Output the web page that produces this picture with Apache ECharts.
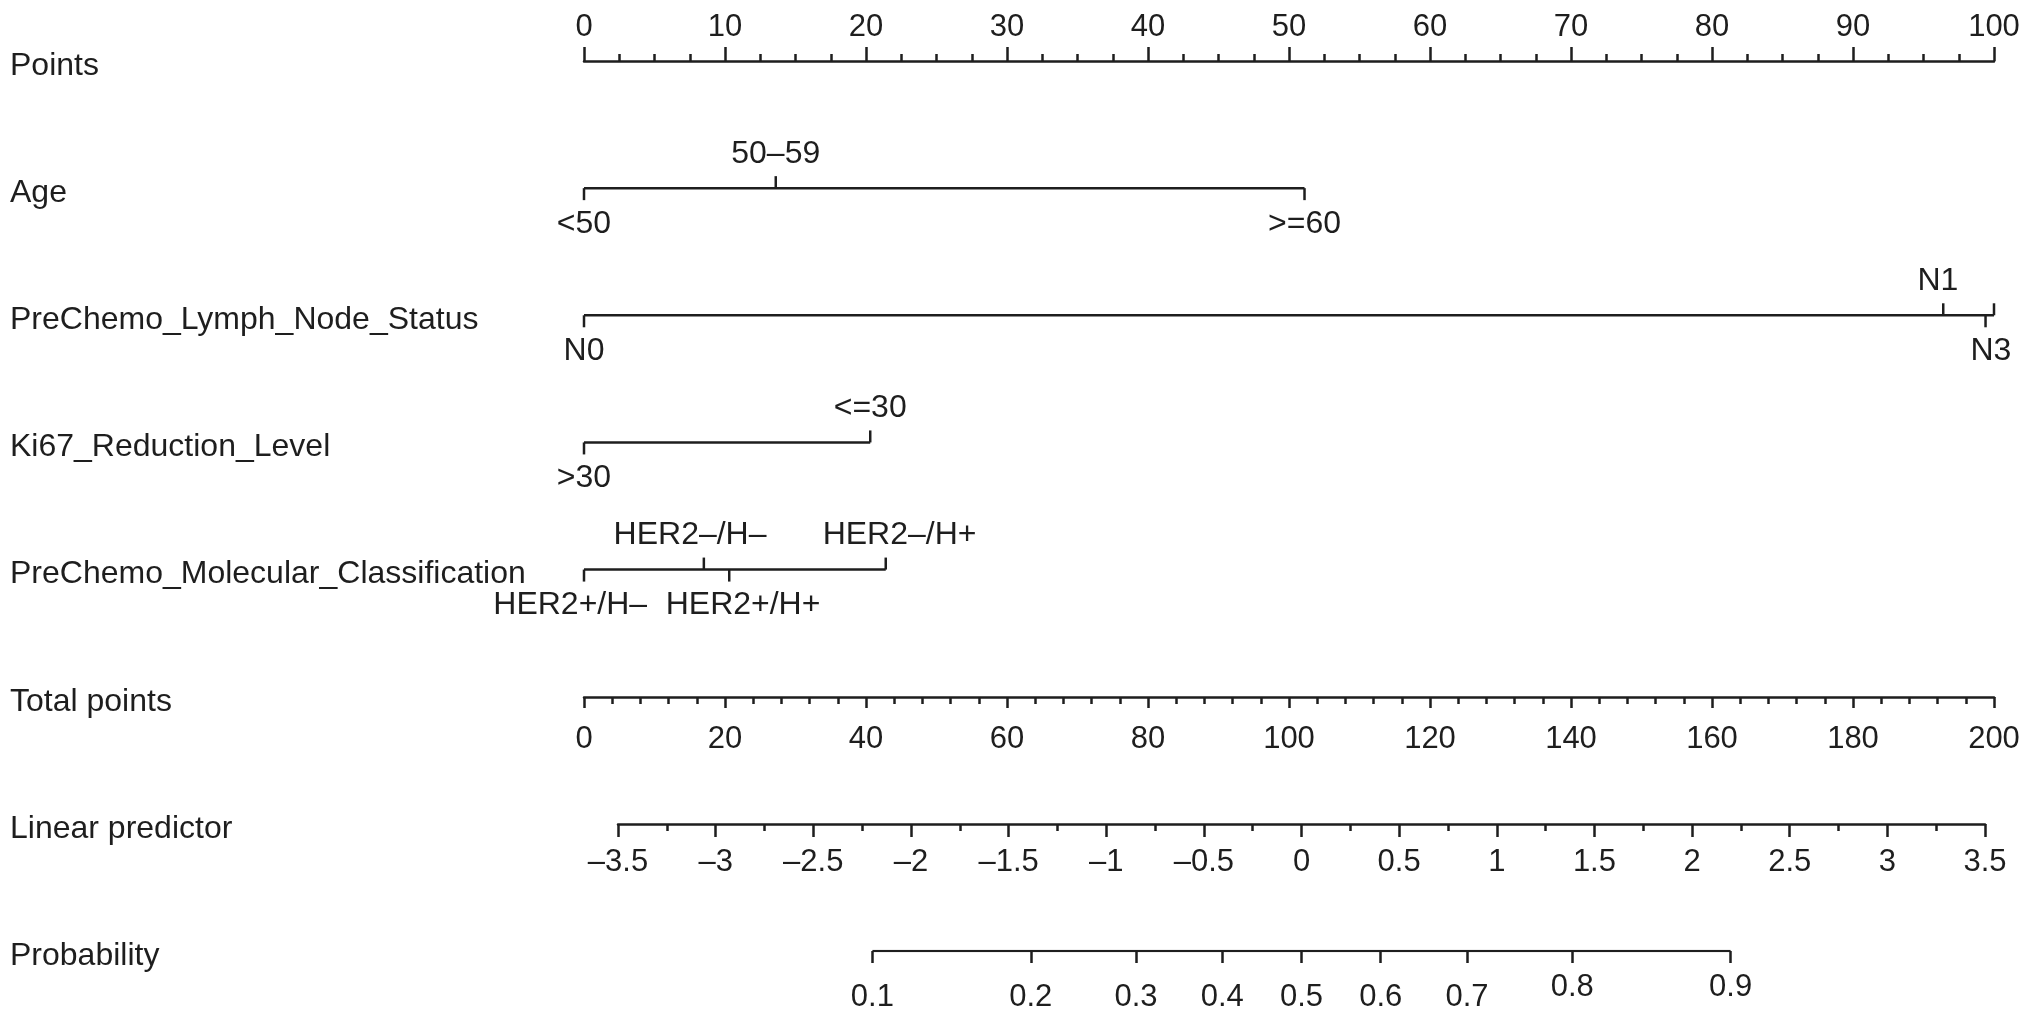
<!DOCTYPE html>
<html>
<head>
<meta charset="utf-8">
<title>Nomogram</title>
<script src="https://cdn.jsdelivr.net/npm/echarts@6/dist/echarts.min.js"></script>
<style>
  html, body { margin: 0; padding: 0; background: #fff; }
  #main { width: 2032px; height: 1016px; }
</style>
</head>
<body>
<div id="main"></div>
<script>
// row titles, top to bottom
var rowNames = ['Points', 'Age', 'PreChemo_Lymph_Node_Status', 'Ki67_Reduction_Level',
  'PreChemo_Molecular_Classification', 'Total points', 'Linear predictor', 'Probability']

// points given to each level of the factors
var ageLevels = ['<50', '50–59', '>=60']
var agePoints = [0, 13.6, 51.1]
var lymphLevels = ['N0', 'N1', 'N2', 'N3']
var lymphPoints = [0, 96.4, 100, 99.4]
var ki67Levels = ['>30', '<=30']
var ki67Points = [0, 20.3]
var molLevels = ['HER2–/H–', 'HER2–/H+', 'HER2+/H–', 'HER2+/H+']
var molPoints = [8.5, 21.4, 0, 10.3]

// tick labels of the scales
var pointsTicks = [0, 10, 20, 30, 40, 50, 60, 70, 80, 90, 100]
var totalTicks = [0, 20, 40, 60, 80, 100, 120, 140, 160, 180, 200]
var lpTicks = [-3.5, -3, -2.5, -2, -1.5, -1, -0.5, 0, 0.5, 1, 1.5, 2, 2.5, 3, 3.5]
var probTicks = [0.1, 0.2, 0.3, 0.4, 0.5, 0.6, 0.7, 0.8, 0.9]

var factors = [
  { row: 1, levels: ageLevels, points: agePoints },
  { row: 2, levels: lymphLevels, points: lymphPoints },
  { row: 3, levels: ki67Levels, points: ki67Points },
  { row: 4, levels: molLevels, points: molPoints }
]

var INK = '#1e1e1e'
var FAMILY = '"Liberation Sans", Arial, Helvetica, sans-serif'
var FONT = '32px ' + FAMILY
var lineStyle = { color: INK, width: 2.5 }

function logit(p) {
  return Math.log(p / (1 - p))
}
function fmtMinus(v) {
  return String(v).replace('-', '–')
}

// one factor row: line, ticks alternating down/up by value, labels spread apart
function renderFactor(params, api) {
  var f = factors[params.dataIndex]
  var y = api.coord([0, f.row])[1]
  var xs = f.points.map(function(p) {
    return api.coord([p, f.row])[0]
  })
  var order = xs.map(function(x, i) { return i }).sort(function(a, b) {
    return f.points[a] - f.points[b]
  })
  var children = [{
    type: 'line',
    shape: { x1: Math.min.apply(null, xs), y1: y, x2: Math.max.apply(null, xs), y2: y },
    style: { stroke: INK, lineWidth: 2.5 }
  }]
  var labs = []
  var prevX = null
  order.forEach(function(idx, k) {
    var side = k % 2 === 0 ? 1 : -1
    var x = xs[idx]
    children.push({
      type: 'line',
      shape: { x1: x, y1: y, x2: x, y2: y + side * 12 },
      style: { stroke: INK, lineWidth: 2.5 }
    })
    // a tick sitting almost on the previous one gets no label
    if (prevX === null || x - prevX > 15) {
      labs.push({ text: f.levels[idx], x: x, x0: x, side: side })
    }
    prevX = x
  })
  // push crowded neighbours apart, together with their nearby cluster
  for (var i = 1; i < labs.length; i++) {
    var short = 53 - (labs[i].x - labs[i - 1].x)
    if (short > 0) {
      var j
      for (j = i - 1; j >= 0; j--) {
        labs[j].x -= short / 2
        if (j > 0 && labs[j].x0 - labs[j - 1].x0 > 200) break
      }
      for (j = i; j < labs.length; j++) {
        labs[j].x += short / 2
        if (j < labs.length - 1 && labs[j + 1].x0 - labs[j].x0 > 200) break
      }
    }
  }
  labs.forEach(function(lab) {
    children.push({
      type: 'text',
      style: {
        text: lab.text, x: lab.x, y: y + (lab.side > 0 ? 36 : -34),
        align: 'center', verticalAlign: 'middle', font: FONT, fill: INK
      }
    })
  })
  return { type: 'group', children: children }
}

function scaleAxis(gridIndex, ticks, opts) {
  return {
    gridIndex: gridIndex,
    type: 'value',
    position: opts.position || 'bottom',
    min: ticks[0],
    max: ticks[ticks.length - 1],
    interval: ticks[1] - ticks[0],
    splitLine: { show: false },
    axisLine: { show: true, onZero: false, lineStyle: lineStyle },
    axisTick: { show: true, inside: false, length: opts.tick, lineStyle: lineStyle },
    minorTick: { show: true, splitNumber: opts.minor, length: 7, lineStyle: lineStyle },
    axisLabel: {
      show: true,
      customValues: ticks,
      margin: opts.margin,
      color: INK,
      fontSize: 31,
      fontFamily: FAMILY,
      formatter: fmtMinus
    }
  }
}

var myChart = echarts.init(document.getElementById('main'))
var probLogits = probTicks.map(logit)

var option = {
  animation: false,
  backgroundColor: '#fff',
  grid: [
    { left: 584, right: 38, top: 61, bottom: 65, containLabel: false, outerBoundsMode: 'none' },
    { left: 584, right: 38, top: 697, height: 0, containLabel: false, outerBoundsMode: 'none' },
    { left: 618, right: 47, top: 824, height: 0, containLabel: false, outerBoundsMode: 'none' },
    { left: 618, right: 47, top: 951, height: 0, containLabel: false, outerBoundsMode: 'none' }
  ],
  xAxis: [
    scaleAxis(0, pointsTicks, { position: 'top', tick: 14, minor: 4, margin: 18 }),
    scaleAxis(1, totalTicks, { tick: 11, minor: 5, margin: 27 }),
    scaleAxis(2, lpTicks, { tick: 13, minor: 2, margin: 23 }),
    {
      gridIndex: 3,
      type: 'value',
      min: lpTicks[0],
      max: lpTicks[lpTicks.length - 1],
      splitLine: { show: false },
      axisLine: { show: false },
      axisTick: { show: true, customValues: probLogits, length: 12, lineStyle: lineStyle },
      axisLabel: {
        show: true,
        customValues: probLogits,
        margin: 21,
        formatter: function(v) {
          var p = (1 / (1 + Math.exp(-v))).toFixed(1)
          return p >= 0.8 ? '{hi|' + p + '}' : '{lo|' + p + '}'
        },
        rich: {
          hi: { color: INK, fontSize: 31, fontFamily: FAMILY },
          lo: { color: INK, fontSize: 31, fontFamily: FAMILY, padding: [10, 0, 0, 0] }
        }
      }
    }
  ],
  yAxis: [
    {
      gridIndex: 0,
      type: 'category',
      data: rowNames,
      inverse: true,
      boundaryGap: false,
      axisLine: { show: false },
      axisTick: { show: false },
      splitLine: { show: false },
      axisLabel: {
        align: 'left', verticalAlign: 'top', lineHeight: 10, margin: 574,
        color: INK, fontSize: 32, fontFamily: FAMILY
      }
    },
    { gridIndex: 1, type: 'value', show: false },
    { gridIndex: 2, type: 'value', show: false },
    { gridIndex: 3, type: 'value', show: false, min: -1, max: 1 }
  ],
  series: [
    {
      type: 'custom',
      xAxisIndex: 0,
      yAxisIndex: 0,
      clip: false,
      silent: true,
      renderItem: renderFactor,
      data: factors.map(function(f) {
        return [0, f.row]
      })
    },
    {
      name: 'Probability',
      type: 'line',
      xAxisIndex: 3,
      yAxisIndex: 3,
      symbol: 'none',
      silent: true,
      lineStyle: { color: INK, width: 2.5 },
      data: [[probLogits[0], 0], [probLogits[probLogits.length - 1], 0]]
    }
  ]
}
myChart.setOption(option)
</script>
</body>
</html>
